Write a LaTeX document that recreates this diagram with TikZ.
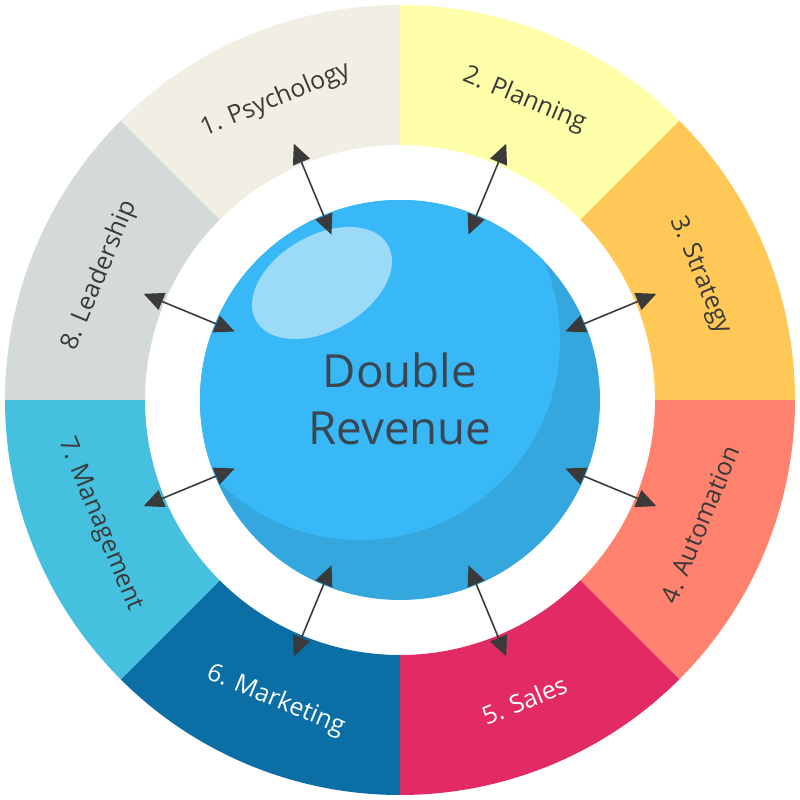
\documentclass[tikz,border=0pt]{standalone}
\usepackage{fontspec}
\setmainfont{Open Sans}
\usepackage{xcolor}
\usetikzlibrary{arrows.meta, calc}

\definecolor{psycho}{HTML}{F1EEE3}
\definecolor{plan}{HTML}{FFFFA9}
\definecolor{strat}{HTML}{FFC857}
\definecolor{autom}{HTML}{FF826E}
\definecolor{sales}{HTML}{E22A63}
\definecolor{market}{HTML}{0B6EA5}
\definecolor{manage}{HTML}{45C0DE}
\definecolor{lead}{HTML}{D4D9DA}
\definecolor{ball}{HTML}{38B8F6}
\definecolor{ballshade}{HTML}{33A7DE}
\definecolor{ballhi}{HTML}{9CDBF8}
\definecolor{txtdark}{HTML}{3A3A3A}
\definecolor{coretext}{HTML}{3B4650}
\definecolor{arrgray}{HTML}{3A3A3A}

\begin{document}
\begin{tikzpicture}[
    every node/.style={font=\fontsize{14.2}{17}\selectfont},
    lab/.style={inner sep=0pt},
    arr/.style={<->, >={Triangle[length=4mm, width=3.6mm]},
                line width=0.9pt, draw=arrgray, fill=arrgray},
  ]
    \def\rin{5.1}
    \def\rout{7.9}
    \def\rmid{6.5}
    \def\rcore{4.0}

    \useasboundingbox (-8,-8) rectangle (8,8);

    % ring segments
    \foreach \a/\col in {90/psycho, 45/plan, 0/strat, -45/autom,
                         -90/sales, -135/market, 180/manage, 135/lead}{
      \fill[\col] (\a:\rin) arc[start angle=\a, end angle=\a+45, radius=\rin]
           -- ({\a+45}:\rout) arc[start angle=\a+45, end angle=\a, radius=\rout]
           -- cycle;
    }

    % ball
    \fill[ballshade] (0,0) circle (\rcore);
    \begin{scope}
      \clip (0,0) circle (\rcore);
      \fill[ball] (-0.8,1.2) circle (\rcore);
    \end{scope}
    \fill[ballhi, rotate around={30:(-1.56,2.34)}] (-1.56,2.34) ellipse (1.52 and 0.95);
    \node[align=center, text=coretext, font=\fontsize{26}{32.4}\selectfont]
         (core) at (0,0.02) {Double\\Revenue};

    % labels and arrows
    \foreach \i/\m/\rot/\tc/\txt in {
        1/112.5/22.5/txtdark/{1. Psychology},
        2/67.5/-22.5/txtdark/{2. Planning},
        3/22.5/-67.5/txtdark/{3. Strategy},
        4/-22.5/67.5/txtdark/{4. Automation},
        5/-67.5/22.5/white/{5. Sales},
        6/-112.5/-22.5/white/{6. Marketing},
        7/-157.5/-67.5/txtdark/{7. Management},
        8/157.5/67.5/txtdark/{8. Leadership}}{
      \node[lab, text=\tc, rotate=\rot] (lab\i) at (\m:\rmid) {\txt};
      \coordinate (in\i) at (\m:3.58);
      \coordinate (out\i) at (\m:5.55);
      \draw[arr] (in\i) -- (out\i);
    }
  \end{tikzpicture}
\end{document}
